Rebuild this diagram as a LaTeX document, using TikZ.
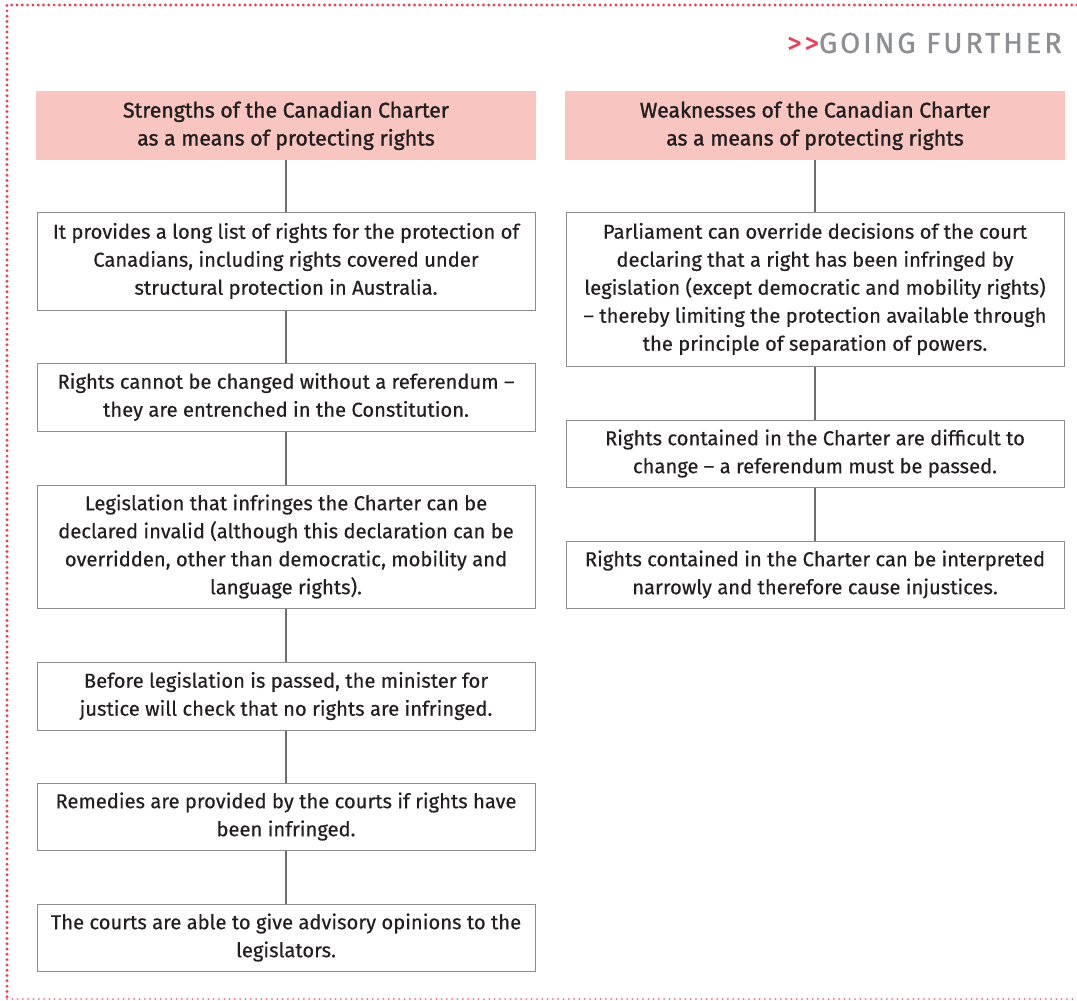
\documentclass[tikz,border=0pt]{standalone}
\usepackage{fontspec}
\setmainfont{Fira Sans}[FakeBold=0.4]
\newfontfamily\titlefont[LetterSpace=10,FakeBold=0.8]{Fira Sans}
\newfontfamily\headingfont[FakeBold=1.4]{Fira Sans}
\definecolor{dotred}{HTML}{E8405A}
\definecolor{pinkfill}{HTML}{F8C5C0}
\definecolor{boxgray}{HTML}{8C8C8C}
\definecolor{linegray}{HTML}{6E6E6E}
\definecolor{ink}{HTML}{231F20}
\definecolor{titlegray}{HTML}{8E8F93}
\begin{document}
\begin{tikzpicture}[x=1pt,y=-1pt,
  every node/.style={text=ink,font=\fontsize{20.2}{28}\selectfont},
  headbox/.style={fill=pinkfill,draw=none,minimum width=500pt,minimum height=69pt,
    align=center,inner sep=0pt,font=\headingfont\fontsize{21.2}{28}\selectfont},
  itembox/.style={fill=white,draw=boxgray,line width=1pt,minimum width=498pt,
    align=center,inner sep=0pt},
  link/.style={draw=linegray,line width=1.3pt}]
\useasboundingbox (0,0) rectangle (1077,1001);
% dotted frame on three sides
\draw[dotred,line width=3.2pt,line cap=round,dash pattern=on 0pt off 5.3pt]
  (1077,5) -- (7,5) -- (7,999);
\draw[dotred!75,line width=2pt,line cap=round,dash pattern=on 0pt off 5.3pt]
  (7,999) -- (1077,999);
% section title
\node[anchor=east,inner sep=0pt,font=\titlefont\fontsize{29}{30}\selectfont,text=titlegray]
  (title) at (1062,43) {\textcolor{dotred}{>>}GOING FURTHER};
% column headings
\node[headbox] (hs) at (286,125.5) {Strengths of the Canadian Charter\\as a means of protecting rights};
\node[headbox] (hw) at (815,125.5) {Weaknesses of the Canadian Charter\\as a means of protecting rights};
% strengths
\node[itembox,minimum height=98pt] (s1) at (286,261)
  {It provides a long list of rights for the protection of\\Canadians, including rights covered under\\structural protection in Australia.};
\node[itembox,minimum height=68pt] (s2) at (286,397)
  {Rights cannot be changed without a referendum –\\they are entrenched in the Constitution.};
\node[itembox,minimum height=123pt] (s3) at (286,546.5)
  {Legislation that infringes the Charter can be\\declared invalid (although this declaration can be\\overridden, other than democratic, mobility and\\language rights).};
\node[itembox,minimum height=68pt] (s4) at (286,696)
  {Before legislation is passed, the minister for\\justice will check that no rights are infringed.};
\node[itembox,minimum height=67pt] (s5) at (286,816.5)
  {Remedies are provided by the courts if rights have\\been infringed.};
\node[itembox,minimum height=67pt] (s6) at (286,937.5)
  {The courts are able to give advisory opinions to the\\legislators.};
% weaknesses
\node[itembox,minimum height=154pt] (w1) at (815,289)
  {Parliament can override decisions of the court\\declaring that a right has been infringed by\\legislation (except democratic and mobility rights)\\– thereby limiting the protection available through\\the principle of separation of powers.};
\node[itembox,minimum height=67pt] (w2) at (815,453.5)
  {Rights contained in the Charter are difficult to\\change – a referendum must be passed.};
\node[itembox,minimum height=67pt] (w3) at (815,574.5)
  {Rights contained in the Charter can be interpreted\\narrowly and therefore cause injustices.};
% connectors
\foreach \a/\b in {hs/s1,s1/s2,s2/s3,s3/s4,s4/s5,s5/s6,hw/w1,w1/w2,w2/w3}
  \draw[link] (\a.south) -- (\b.north);
\end{tikzpicture}
\end{document}
